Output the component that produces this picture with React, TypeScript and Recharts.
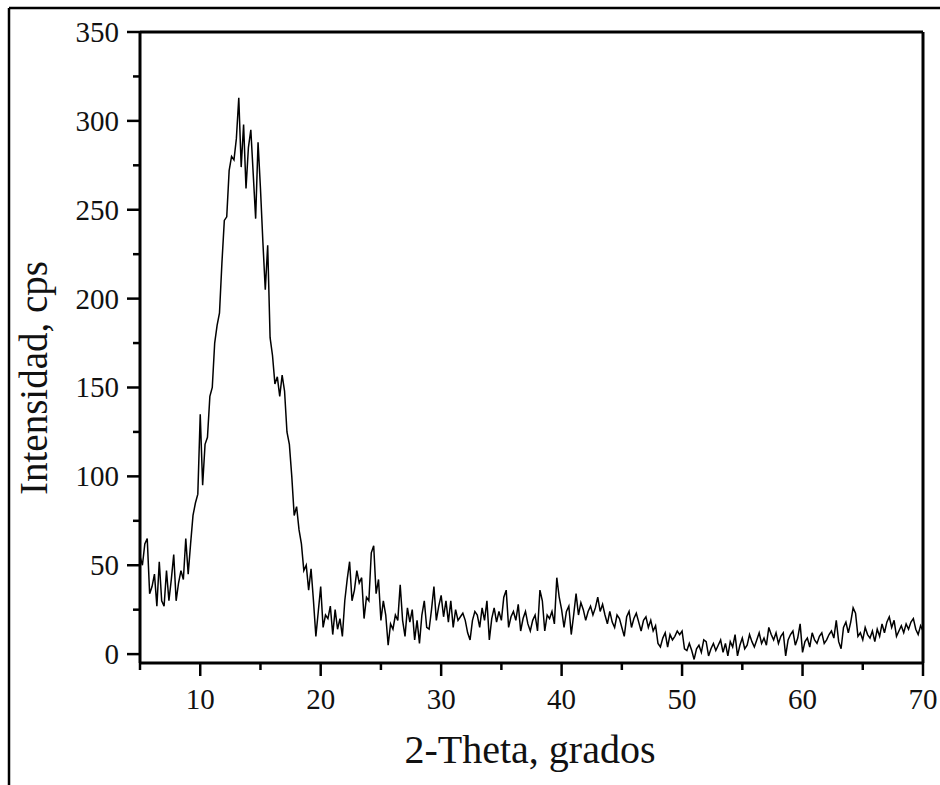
import { LineChart, Line, XAxis, YAxis, ReferenceLine } from 'recharts'

// 2-theta grid: 5.0 to 70.0 in 0.2 degree steps
const thetaStart = 5
const thetaStep = 0.2

// intensity (cps) in 10-degree blocks
const cps05to15 = [
  55, 50, 62, 65, 34, 38, 45, 27, 52, 30,
  27, 47, 30, 42, 56, 30, 40, 47, 42, 65,
  45, 62, 78, 85, 90, 135, 95, 118, 122, 145,
  150, 175, 185, 192, 220, 244, 246, 272, 280, 278,
  290, 313, 274, 298, 262, 285, 295, 270, 245, 288,
]
const cps15to25 = [
  262, 232, 205, 230, 178, 168, 152, 156, 145, 157,
  148, 125, 118, 100, 78, 83, 70, 62, 47, 50,
  36, 48, 30, 10, 24, 38, 15, 22, 20, 27,
  11, 25, 14, 20, 10, 30, 42, 52, 30, 36,
  47, 40, 43, 20, 32, 30, 57, 61, 34, 42,
]
const cps25to35 = [
  19, 30, 22, 5, 17, 14, 22, 19, 39, 19,
  10, 26, 18, 25, 8, 19, 6, 22, 30, 15,
  14, 25, 38, 19, 27, 33, 21, 30, 18, 30,
  15, 25, 19, 21, 23, 19, 12, 8, 19, 24,
  22, 15, 26, 19, 30, 8, 20, 26, 18, 24,
]
const cps35to45 = [
  19, 32, 36, 15, 21, 24, 19, 28, 13, 20,
  24, 17, 13, 19, 22, 13, 36, 30, 13, 22,
  20, 24, 17, 43, 32, 25, 15, 24, 27, 11,
  22, 34, 22, 29, 25, 19, 24, 27, 22, 26,
  32, 24, 28, 22, 17, 24, 18, 15, 22, 20,
]
const cps45to55 = [
  15, 10, 21, 24, 15, 20, 23, 18, 13, 19,
  21, 15, 19, 13, 16, 6, 4, 9, 12, 4,
  11, 8, 10, 13, 11, 13, 3, 2, 6, 2,
  -3, 3, 5, 1, 8, 7, -1, 3, 6, 2,
  5, 8, 1, 6, -1, 7, 4, 11, -1, 5,
]
const cps55to65 = [
  9, 3, 5, 11, 7, 4, 8, 12, 6, 9,
  5, 15, 11, 8, 12, 6, 10, 12, -1, 8,
  11, 13, 5, 9, 17, 1, 7, 9, 4, 12,
  8, 6, 10, 12, 6, 8, 11, 13, 9, 19,
  7, 3, 15, 18, 12, 18, 26, 23, 10, 12,
]
const cps65to70 = [
  8, 15, 11, 9, 13, 7, 14, 10, 17, 12,
  18, 21, 15, 19, 10, 13, 16, 12, 17, 14,
  18, 20, 14, 11, 16, 13,
]

const xTicks = [5, 10, 15, 20, 25, 30, 35, 40, 45, 50, 55, 60, 65, 70]
const yTicks = [0, 25, 50, 75, 100, 125, 150, 175, 200, 225, 250, 275, 300, 325, 350]

const intensity = [
  ...cps05to15, ...cps15to25, ...cps25to35, ...cps35to45,
  ...cps45to55, ...cps55to65, ...cps65to70,
]
const data = intensity.map((v, i) => ({
  theta: +(thetaStart + i * thetaStep).toFixed(1),
  cps: v,
}))

const FONT = '"Liberation Serif", "Times New Roman", serif'

const XTick = ({ x, y, payload }: any) => {
  const major = payload.value % 10 === 0
  return (
    <g>
      <line x1={x} x2={x} y1={y} y2={y + (major ? 13 : 7)} stroke="#000" strokeWidth={2.5} />
      {major && (
        <text x={x} y={y + 46} textAnchor="middle" fontFamily={FONT} fontSize={29} fill="#111">
          {payload.value}
        </text>
      )}
    </g>
  )
}

const YTick = ({ x, y, payload }: any) => {
  const major = payload.value % 50 === 0
  return (
    <g>
      <line x1={x - (major ? 13 : 7)} x2={x} y1={y} y2={y} stroke="#000" strokeWidth={2.5} />
      {major && (
        <text x={x - 21} y={y + 10} textAnchor="end" fontFamily={FONT} fontSize={29} fill="#111">
          {payload.value}
        </text>
      )}
    </g>
  )
}

export default function App() {
  return (
    <div style={{ position: 'absolute', left: 0, top: 0, width: 940, height: 785, background: '#fff' }}>
      <LineChart width={940} height={785} data={data} margin={{ top: 32, right: 17, bottom: 0, left: 0 }}>
        <XAxis
          dataKey="theta"
          type="number"
          domain={[5, 70]}
          ticks={xTicks}
          interval={0}
          height={122}
          tickSize={0}
          tickMargin={0}
          tickLine={false}
          tick={XTick}
          axisLine={{ stroke: '#000', strokeWidth: 3 }}
        />
        <YAxis
          type="number"
          domain={[-5, 350]}
          ticks={yTicks}
          interval={0}
          width={140}
          tickSize={0}
          tickMargin={0}
          tickLine={false}
          tick={YTick}
          axisLine={{ stroke: '#000', strokeWidth: 3 }}
        />
        <ReferenceLine y={350} stroke="#000" strokeWidth={3} />
        <ReferenceLine x={70} stroke="#000" strokeWidth={3} />
        <Line
          type="linear"
          dataKey="cps"
          stroke="#000"
          strokeWidth={1.5}
          dot={false}
          isAnimationActive={false}
        />
      </LineChart>
      <svg width={940} height={785} style={{ position: 'absolute', left: 0, top: 0, pointerEvents: 'none' }}>
        <line x1={9} x2={940} y1={8} y2={8} stroke="#000" strokeWidth={2.5} />
        <line x1={9} x2={9} y1={8} y2={785} stroke="#000" strokeWidth={2.5} />
        <text x={530} y={763} textAnchor="middle" fontFamily={FONT} fontSize={40} fill="#111">
          2-Theta, grados
        </text>
        <text
          x={47}
          y={378}
          textAnchor="middle"
          fontFamily={FONT}
          fontSize={39}
          fill="#111"
          transform="rotate(-90, 47, 378)"
        >
          Intensidad, cps
        </text>
      </svg>
    </div>
  )
}
